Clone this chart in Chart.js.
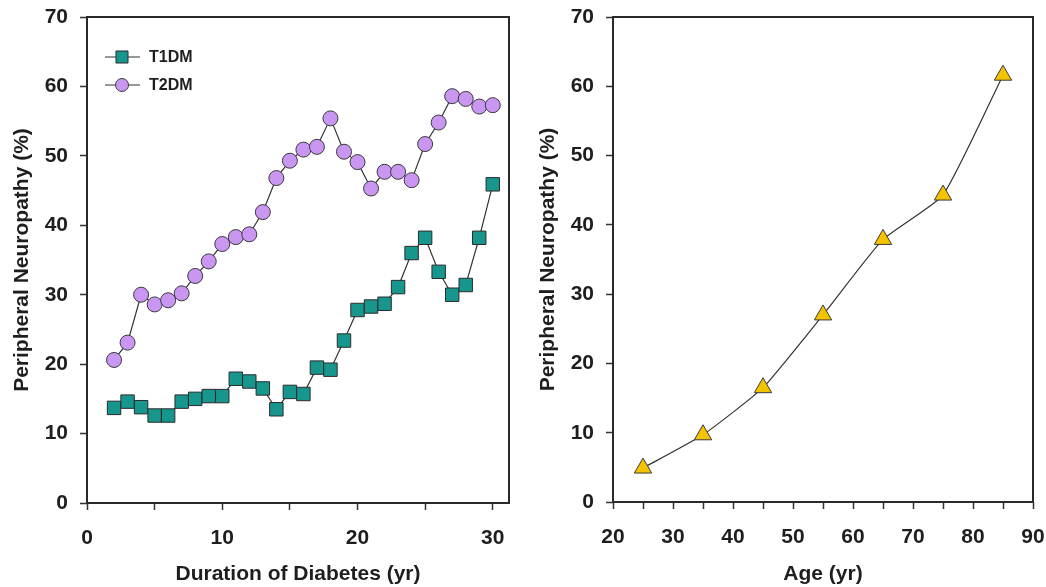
<!DOCTYPE html>
<html>
<head>
<meta charset="utf-8">
<script src="https://cdn.jsdelivr.net/npm/chart.js@4.4.1/dist/chart.umd.min.js"></script>
<style>
  html, body { margin: 0; padding: 0; background: #fff; overflow: hidden; }
  .box { position: absolute; top: 0; height: 587px; }
  #left { left: 0; width: 520px; }
  #right { left: 526px; width: 520px; }
</style>
</head>
<body>
<div class="box" id="left"><canvas id="durationChart"></canvas></div>
<div class="box" id="right"><canvas id="ageChart"></canvas></div>
<script>
// Duration of diabetes (yr)
const durationYears = [2, 3, 4, 5, 6, 7, 8, 9, 10, 11, 12, 13, 14, 15, 16, 17, 18, 19, 20, 21, 22, 23, 24, 25, 26, 27, 28, 29, 30];
const t1dm = [13.7, 14.6, 13.8, 12.6, 12.6, 14.6, 15.0, 15.4, 15.4, 17.9, 17.5, 16.5, 13.5, 16.0, 15.7, 19.5, 19.2, 23.4, 27.8, 28.3, 28.7, 31.1, 36.0, 38.2, 33.3, 30.0, 31.4, 38.2, 45.9];
const t2dm = [20.6, 23.1, 30.0, 28.6, 29.2, 30.2, 32.7, 34.8, 37.3, 38.3, 38.7, 41.9, 46.8, 49.3, 50.9, 51.3, 55.4, 50.6, 49.1, 45.3, 47.7, 47.7, 46.5, 51.7, 54.8, 58.6, 58.2, 57.1, 57.3];

// Age (yr)
const ageYears = [25, 35, 45, 55, 65, 75, 85];
const ageNeuropathy = [4.9, 9.7, 16.5, 27.0, 37.9, 44.3, 61.6];

const yTicks = [0, 10, 20, 30, 40, 50, 60, 70];

const FONT = '"Liberation Sans", Arial, Helvetica, sans-serif';
const INK = '#1e1e1e';
const toPoints = (xs, ys) => xs.map((x, i) => ({ x: x, y: ys[i] }));

// full frame around the plot area
const frame = {
  id: 'frame',
  afterDraw(chart) {
    const { ctx, chartArea: a } = chart;
    ctx.save();
    ctx.strokeStyle = '#2a2a2a';
    ctx.lineWidth = 2;
    ctx.strokeRect(a.left, a.top, a.right - a.left, a.bottom - a.top);
    ctx.restore();
  }
};

// legend drawn inside the plot, line through marker
const insideLegend = {
  id: 'insideLegend',
  afterDraw(chart) {
    if (chart.canvas.id !== 'durationChart') return;
    const { ctx, chartArea: a } = chart;
    ctx.save();
    chart.data.datasets.forEach((ds, i) => {
      const y = a.top + 40 + i * 28;
      ctx.strokeStyle = '#333';
      ctx.lineWidth = 1;
      ctx.beginPath();
      ctx.moveTo(a.left + 18, y);
      ctx.lineTo(a.left + 53, y);
      ctx.stroke();
      ctx.fillStyle = ds.pointBackgroundColor;
      ctx.strokeStyle = ds.pointBorderColor;
      ctx.lineWidth = 1;
      Chart.helpers.drawPoint(ctx, {
        pointStyle: ds.pointStyle,
        rotation: 0,
        borderWidth: 1,
        radius: ds.pointStyle === 'rect' ? 8.5 : 6.5
      }, a.left + 35, y);
      ctx.fillStyle = INK;
      ctx.font = 'bold 16px ' + FONT;
      ctx.textBaseline = 'middle';
      ctx.fillText(ds.label, a.left + 62, y + 1);
    });
    ctx.restore();
  }
};

function yAxis() {
  return {
    type: 'linear',
    min: 0,
    max: 70,
    afterFit: s => { s.width = 87; s.paddingTop = 0; s.paddingBottom = 0; },
    afterBuildTicks: s => { s.ticks = yTicks.map(v => ({ value: v })); },
    border: { display: false },
    grid: { display: true, drawOnChartArea: false, drawTicks: true, tickLength: 7, tickColor: '#333', tickWidth: 1.5 },
    ticks: { color: INK, padding: 12, font: { family: FONT, size: 21, weight: 'bold' } },
    title: { display: true, text: 'Peripheral Neuropathy (%)', color: INK, padding: { top: 10, bottom: 0 }, font: { family: FONT, size: 21, weight: 'bold' } }
  };
}

function xAxis(min, max, title, height) {
  return {
    type: 'linear',
    min: min,
    max: max,
    afterFit: s => { s.height = height; s.paddingLeft = 0; s.paddingRight = 0; },
    border: { display: false },
    grid: { display: true, drawOnChartArea: false, drawTicks: true, tickLength: 7, tickColor: '#333', tickWidth: 1.5 },
    ticks: {
      stepSize: 5,
      includeBounds: false,
      autoSkip: false,
      maxRotation: 0,
      color: INK,
      padding: 16,
      font: { family: FONT, size: 21, weight: 'bold' },
      callback: v => (v % 10 === 0 ? String(v) : '')
    },
    title: { display: true, text: title, color: INK, padding: { top: 0, bottom: 0 }, font: { family: FONT, size: 21, weight: 'bold' } }
  };
}

Chart.defaults.animation = false;

new Chart(document.getElementById('durationChart').getContext('2d'), {
  type: 'line',
  data: {
    datasets: [{
      label: 'T1DM',
      data: toPoints(durationYears, t1dm),
      borderColor: '#333',
      borderWidth: 1.2,
      pointStyle: 'rect',
      pointRadius: 9.5,
      pointBackgroundColor: '#17968e',
      pointBorderColor: '#2b2b2b',
      pointBorderWidth: 1,
      tension: 0
    }, {
      label: 'T2DM',
      data: toPoints(durationYears, t2dm),
      borderColor: '#333',
      borderWidth: 1.2,
      pointStyle: 'circle',
      pointRadius: 7.5,
      pointBackgroundColor: '#c996f2',
      pointBorderColor: '#3a3a3a',
      pointBorderWidth: 1,
      tension: 0
    }]
  },
  options: {
    responsive: true,
    maintainAspectRatio: false,
    clip: false,
    layout: { padding: { top: 17, right: 11, bottom: 0, left: 0 } },
    plugins: { legend: { display: false }, tooltip: { enabled: false } },
    scales: { x: xAxis(0, 31.2, 'Duration of Diabetes (yr)', 84), y: yAxis() }
  },
  plugins: [frame, insideLegend]
});

new Chart(document.getElementById('ageChart').getContext('2d'), {
  type: 'line',
  data: {
    datasets: [{
      label: 'Age',
      data: toPoints(ageYears, ageNeuropathy),
      borderColor: '#333',
      borderWidth: 1.2,
      pointStyle: 'triangle',
      pointRadius: 10,
      pointBackgroundColor: '#f4c300',
      pointBorderColor: '#3a3a3a',
      pointBorderWidth: 1,
      tension: 0.15
    }]
  },
  options: {
    responsive: true,
    maintainAspectRatio: false,
    clip: false,
    layout: { padding: { top: 17, right: 13, bottom: 0, left: 0 } },
    plugins: { legend: { display: false }, tooltip: { enabled: false } },
    scales: { x: xAxis(20, 90, 'Age (yr)', 85), y: yAxis() }
  },
  plugins: [frame]
});
</script>
</body>
</html>
